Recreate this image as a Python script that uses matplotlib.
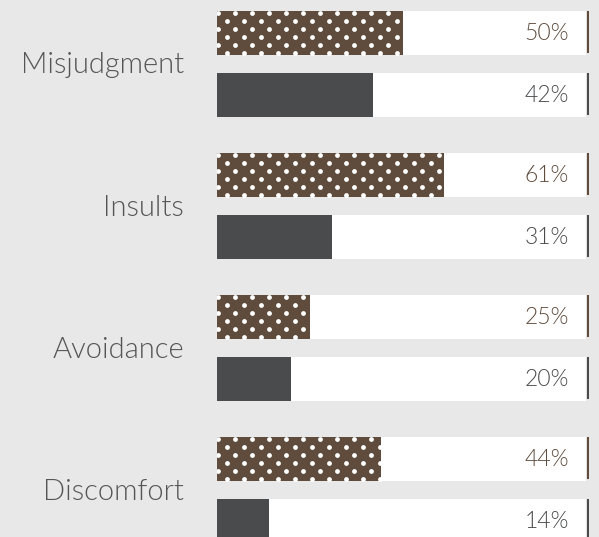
import matplotlib.pyplot as plt
import numpy as np

categories = ["Misjudgment", "Insults", "Avoidance", "Discomfort"]
dotted_vals = [50, 61, 25, 44]   # brown dotted bars
solid_vals = [42, 31, 20, 14]    # dark solid bars

BROWN = "#5f4c3d"
DARK = "#4a4b4d"
LABEL = "#555555"
BG = "#e8e8e8"

W, H = 599, 537
fig = plt.figure(figsize=(W / 100, H / 100), dpi=100)
fig.patch.set_facecolor(BG)

# axes spans the bar track horizontally, y is in pixels from the top
x0, x1 = 217, 589
ax = fig.add_axes([x0 / W, 0, (x1 - x0) / W, 1])
ax.set_xlim(0, 100)
ax.set_ylim(H, 0)
ax.axis("off")

px = 100 / (x1 - x0)   # data units per pixel in x
bar_h = 44
pitch = 142
first = 33
pair_gap = 62
track_end = 99.2
font = dict(family=["Lato", "DejaVu Sans"], fontweight=300)

for i, cat in enumerate(categories):
    ya = first + pitch * i
    yb = ya + pair_gap
    for y, v, col in [(ya, dotted_vals[i], BROWN), (yb, solid_vals[i], DARK)]:
        ax.barh(y, track_end, height=bar_h, color="white", lw=0)
        bar = ax.barh(y, v, height=bar_h, color=col, lw=0).patches[0]
        ax.plot([99.7, 99.7], [y - bar_h / 2, y + bar_h / 2 - 2],
                color=col, lw=1.5, solid_capstyle="butt")
        ax.text(94.6, y + 1, f"{v}%", ha="right", va="center",
                fontsize=16.5, color=col, **font)
        if col == BROWN:
            # polka dot fill, clipped to the bar
            top = y - bar_h / 2
            xs, ys = [], []
            for k in range(7):
                off = 1.3 if k % 2 == 0 else 9.8
                row_x = np.arange(off, v / px + 17, 17) * px
                xs.extend(row_x)
                ys.extend([top + 1.7 + 8 * k] * len(row_x))
            sc = ax.scatter(xs, ys, s=12, color="white", lw=0, zorder=3)
            sc.set_clip_path(bar)
    ax.text(-33 * px, (ya + yb) / 2 + 1.5, cat, ha="right", va="center",
            fontsize=21, color=LABEL, clip_on=False, **font)

fig.savefig("out.png", dpi=100, facecolor=BG)
